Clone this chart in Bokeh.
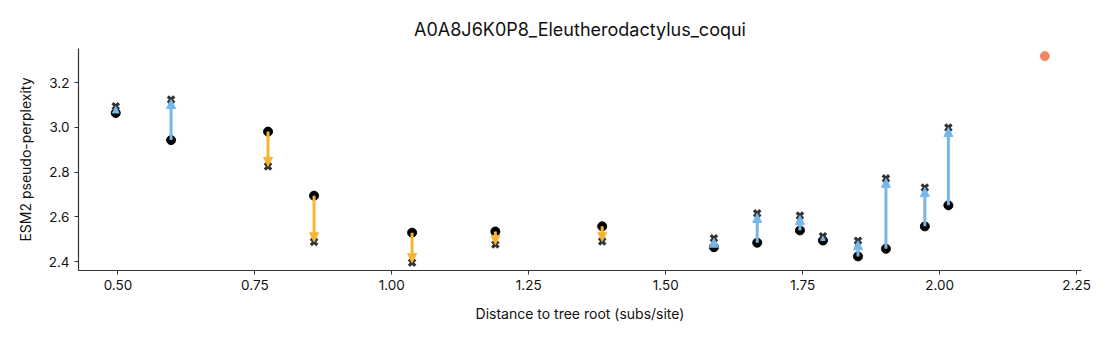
from bokeh.plotting import figure
from bokeh.models import ColumnDataSource, Arrow, NormalHead, Range1d, FixedTicker, CustomJSTickFormatter
from bokeh.embed import file_html
from bokeh.resources import INLINE

# Data
dist = [0.496, 0.597, 0.774, 0.858, 1.037, 1.189, 1.384, 1.588, 1.667, 1.745, 1.787, 1.851, 1.902, 1.973, 2.016]
ppl_start = [3.064, 2.943, 2.981, 2.695, 2.530, 2.535, 2.558, 2.465, 2.485, 2.540, 2.495, 2.424, 2.458, 2.558, 2.652]
ppl_end = [3.094, 3.124, 2.826, 2.489, 2.396, 2.477, 2.491, 2.505, 2.616, 2.606, 2.514, 2.494, 2.772, 2.731, 2.999]
target_x = [2.192]
target_y = [3.318]
x_ticks = [0.5, 0.75, 1.0, 1.25, 1.5, 1.75, 2.0, 2.25]
y_ticks = [2.4, 2.6, 2.8, 3.0, 3.2]

BLUE = "#74b7ea"
ORANGE = "#f7b538"
SALMON = "#f4845f"
FONT = "Inter"

Y0, Y1 = 2.361, 3.352
FRAME_H = 222.0
px_per_unit = FRAME_H / (Y1 - Y0)


def make_src(sel):
    xs = [x for x, s in zip(dist, sel) if s]
    y0 = [a for a, s in zip(ppl_start, sel) if s]
    y1 = [b for b, s in zip(ppl_end, sel) if s]
    hs = [min(9.0, abs(b - a) * px_per_unit) for a, b in zip(y0, y1)]
    return ColumnDataSource(dict(x0=xs, y0=y0, y1=y1, hs=hs))


up = [e >= s for s, e in zip(ppl_start, ppl_end)]
src_up = make_src(up)
src_dn = make_src([not u for u in up])

p = figure(width=1110, height=338, output_backend="svg", toolbar_location=None,
           x_range=Range1d(0.428, 2.259), y_range=Range1d(Y0, Y1),
           min_border_left=78, min_border_right=29, min_border_top=48, min_border_bottom=68,
           title="A0A8J6K0P8_Eleutherodactylus_coqui")
p.outline_line_color = None
p.xgrid.visible = False
p.ygrid.visible = False
p.background_fill_color = "white"
p.border_fill_color = "white"

p.title.align = "center"
p.title.text_font = FONT
p.title.text_font_size = "18px"
p.title.text_font_style = "normal"
p.title.text_color = "#111111"
p.title.standoff = 18

p.scatter(dist, ppl_start, size=9, color="black", marker="circle")

for src, col in ((src_up, BLUE), (src_dn, ORANGE)):
    p.add_layout(Arrow(source=src, x_start="x0", y_start="y0", x_end="x0", y_end="y1",
                       line_color=col, line_width=3,
                       end=NormalHead(size="hs", fill_color=col, line_color=col, line_width=1)))

p.scatter(dist, ppl_end, size=9, marker="x", line_color="#333333", line_width=3.2)
p.scatter(target_x, target_y, size=9, color=SALMON, marker="circle")

p.xaxis.ticker = FixedTicker(ticks=x_ticks)
p.yaxis.ticker = FixedTicker(ticks=y_ticks)
p.xaxis.formatter = CustomJSTickFormatter(code="return tick.toFixed(2);")
p.yaxis.formatter = CustomJSTickFormatter(code="return tick.toFixed(1);")
p.xaxis.axis_label = "Distance to tree root (subs/site)"
p.yaxis.axis_label = "ESM2 pseudo-perplexity"
for ax in (p.xaxis, p.yaxis):
    ax.axis_label_text_font = FONT
    ax.axis_label_text_font_size = "14px"
    ax.axis_label_text_font_style = "normal"
    ax.axis_label_text_color = "#111111"
    ax.major_label_text_font = FONT
    ax.major_label_text_font_size = "13.5px"
    ax.major_label_text_color = "#111111"
    ax.axis_line_color = "#333333"
    ax.axis_line_width = 1.2
    ax.major_tick_line_color = "#333333"
    ax.major_tick_out = 4
    ax.major_tick_in = 0
    ax.minor_tick_line_color = None
p.xaxis.axis_label_standoff = 12
p.yaxis.axis_label_standoff = 12

open("out.html", "w").write(file_html(p, INLINE))
